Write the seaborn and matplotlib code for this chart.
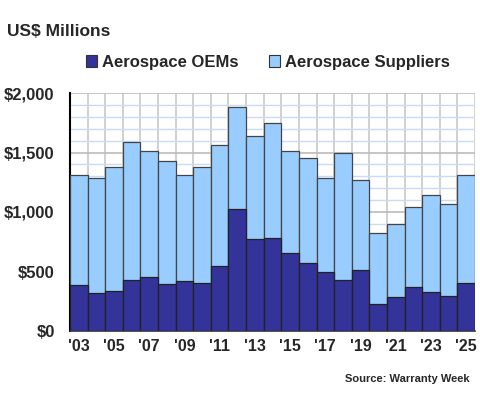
import matplotlib
matplotlib.use("Agg")
import matplotlib.pyplot as plt
from matplotlib.ticker import MultipleLocator, FixedLocator, FuncFormatter
from matplotlib.patches import Patch
import seaborn as sns
import pandas as pd

years = [str(y) for y in range(2003, 2026)]
oems = [387, 323, 340, 426, 452, 395, 421, 404, 547, 1027, 772, 782,
        656, 572, 497, 429, 510, 230, 286, 367, 328, 292, 404]
totals = [1312, 1287, 1374, 1590, 1509, 1428, 1310, 1374, 1559, 1882, 1641, 1750,
          1515, 1450, 1282, 1495, 1271, 822, 895, 1041, 1142, 1071, 1307]
suppliers = [t - o for t, o in zip(totals, oems)]
tick_labels = ["'" + y[2:] if int(y) % 2 == 1 else "" for y in years]
series_names = ["Aerospace OEMs", "Aerospace Suppliers"]
colors = ["#333399", "#99CCFF"]

df = pd.DataFrame({"year": years, "oem": oems, "suppliers": suppliers})
df["total"] = df["oem"] + df["suppliers"]

sns.set_style("white")
plt.rcParams["font.family"] = ["Liberation Sans", "DejaVu Sans"]
plt.rcParams["font.weight"] = "bold"

fig = plt.figure(figsize=(4.8, 4.0), dpi=100)
ax = fig.add_axes([70 / 480, 1 - 331 / 400, 405 / 480, 238 / 400])

sns.barplot(data=df, x="year", y="total", color=colors[1], width=1.0,
            edgecolor="#444444", linewidth=0.9, saturation=1, ax=ax, zorder=3)
sns.barplot(data=df, x="year", y="oem", color=colors[0], width=1.0,
            edgecolor="#222222", linewidth=0.9, saturation=1, ax=ax, zorder=3)

n = len(years)
ax.set_xlim(-0.5, n - 0.5)
ax.set_ylim(0, 2000)

ax.set_xticks(range(n))
ax.set_xticklabels(tick_labels, fontsize=11.5, fontweight="bold")
ax.xaxis.set_minor_locator(FixedLocator([i - 0.5 for i in range(n + 1)]))
ax.tick_params(axis="x", which="major", length=0, pad=6)
ax.tick_params(axis="x", which="minor", length=5, width=1, direction="out", color="#333333")

ax.yaxis.set_major_locator(MultipleLocator(500))
ax.yaxis.set_minor_locator(MultipleLocator(100))
ax.yaxis.set_major_formatter(FuncFormatter(lambda v, p: "${:,.0f}".format(v)))
ax.tick_params(axis="y", which="major", length=10, width=1.3, direction="inout", labelsize=12, pad=6)
ax.tick_params(axis="y", which="minor", length=4, width=1.3, direction="in")
for lab in ax.get_yticklabels():
    lab.set_fontweight("bold")

ax.set_axisbelow(True)
ax.grid(False)
ax.yaxis.grid(True, which="minor", color="#C8DDF5", linewidth=1)
ax.yaxis.grid(True, which="major", color="#BBBBBB", linewidth=1.2)
ax.xaxis.grid(True, which="minor", color="#C8C8C8", linewidth=1.2)

ax.set_xlabel("")
ax.set_ylabel("")
for s in ["top", "right"]:
    ax.spines[s].set_visible(False)
ax.spines["left"].set_color("black")
ax.spines["left"].set_linewidth(1.5)
ax.spines["bottom"].set_color("#333333")
ax.spines["bottom"].set_linewidth(1.2)

fig.text(7 / 480, 1 - 32 / 400, "US$ Millions", fontsize=12.5, fontweight="bold",
         va="center", ha="left")

handles = [Patch(facecolor=c, edgecolor="#333333", linewidth=0.8) for c in colors]
fig.legend(handles, series_names, loc="center", bbox_to_anchor=(268 / 480, 1 - 62 / 400),
           ncol=2, frameon=False, prop={"weight": "bold", "size": 12},
           handlelength=0.7, handleheight=0.7, handletextpad=0.3, columnspacing=1.8)

fig.text(470 / 480, 1 - 379 / 400, "Source: Warranty Week", fontsize=8, fontweight="bold",
         ha="right", va="center")

fig.savefig("out.png", dpi=100)
